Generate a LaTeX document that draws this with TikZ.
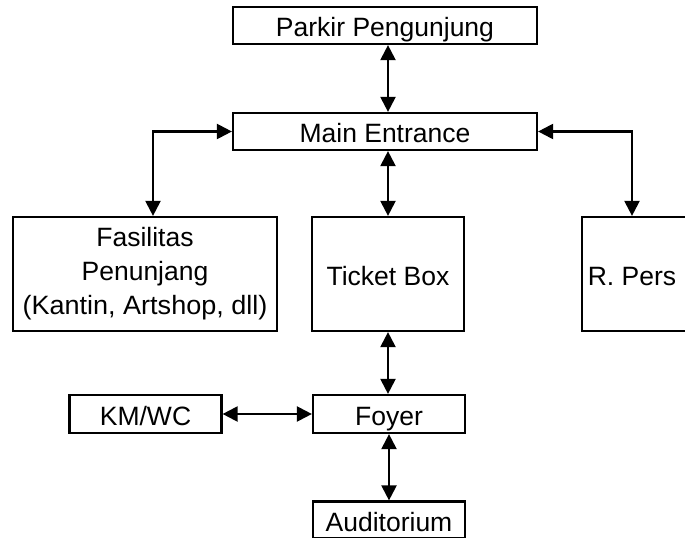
\documentclass[tikz,border=0pt]{standalone}
\usepackage{fontspec}
\setmainfont{Liberation Sans}
\usetikzlibrary{arrows.meta}
\begin{document}
\begin{tikzpicture}[x=1bp,y=-1bp,
  box/.style={draw, line width=2.2bp, rectangle, inner sep=0pt, align=center,
    font=\fontsize{26.5bp}{34bp}\selectfont},
  oneline/.style={box, text height=22bp, text depth=0pt},
  link/.style={line width=2.2bp, {Triangle[length=15bp,width=15bp]}-{Triangle[length=15bp,width=15bp]}}]
\useasboundingbox (0,0) rectangle (685,538);
\node[oneline, minimum width=304bp, minimum height=37bp] (parkir) at (385,25.5) {Parkir Pengunjung};
\node[oneline, minimum width=304bp, minimum height=37bp] (main) at (385,131.5) {Main Entrance};
\node[box, minimum width=264bp, minimum height=114bp] (fas) at (145,274) {Fasilitas\\Penunjang\\\scalebox{1.02}[1]{(Kantin, Artshop, dll)}};
\node[oneline, minimum width=152bp, minimum height=114bp] (ticket) at (388,274) {Ticket Box};
\node[oneline, minimum width=120bp, minimum height=114bp] (rpers) at (642,274) {\hspace*{-20bp}R. Pers};
\node[oneline, minimum width=152bp, minimum height=38bp] (km) at (145.5,414) {KM/WC};
\node[oneline, minimum width=152bp, minimum height=38bp] (foyer) at (389,414) {Foyer};
\node[oneline, minimum width=152bp, minimum height=37bp] (aud) at (389,520) {Auditorium};
\coordinate (lc) at (153,131.5);
\coordinate (rc) at (632,131.5);
\draw[link] (parkir.south -| ticket) -- (main.north -| ticket);
\draw[link] (main.west) -- (lc) -- (lc |- fas.north);
\draw[link] (main.east) -- (rc) -- (rc |- rpers.north);
\draw[link] (main.south -| ticket) -- (ticket.north);
\draw[link] (ticket.south) -- (ticket.south |- foyer.north);
\draw[link] (km.east) -- (foyer.west);
\draw[link] (foyer.south) -- (aud.north);
\end{tikzpicture}
\end{document}
